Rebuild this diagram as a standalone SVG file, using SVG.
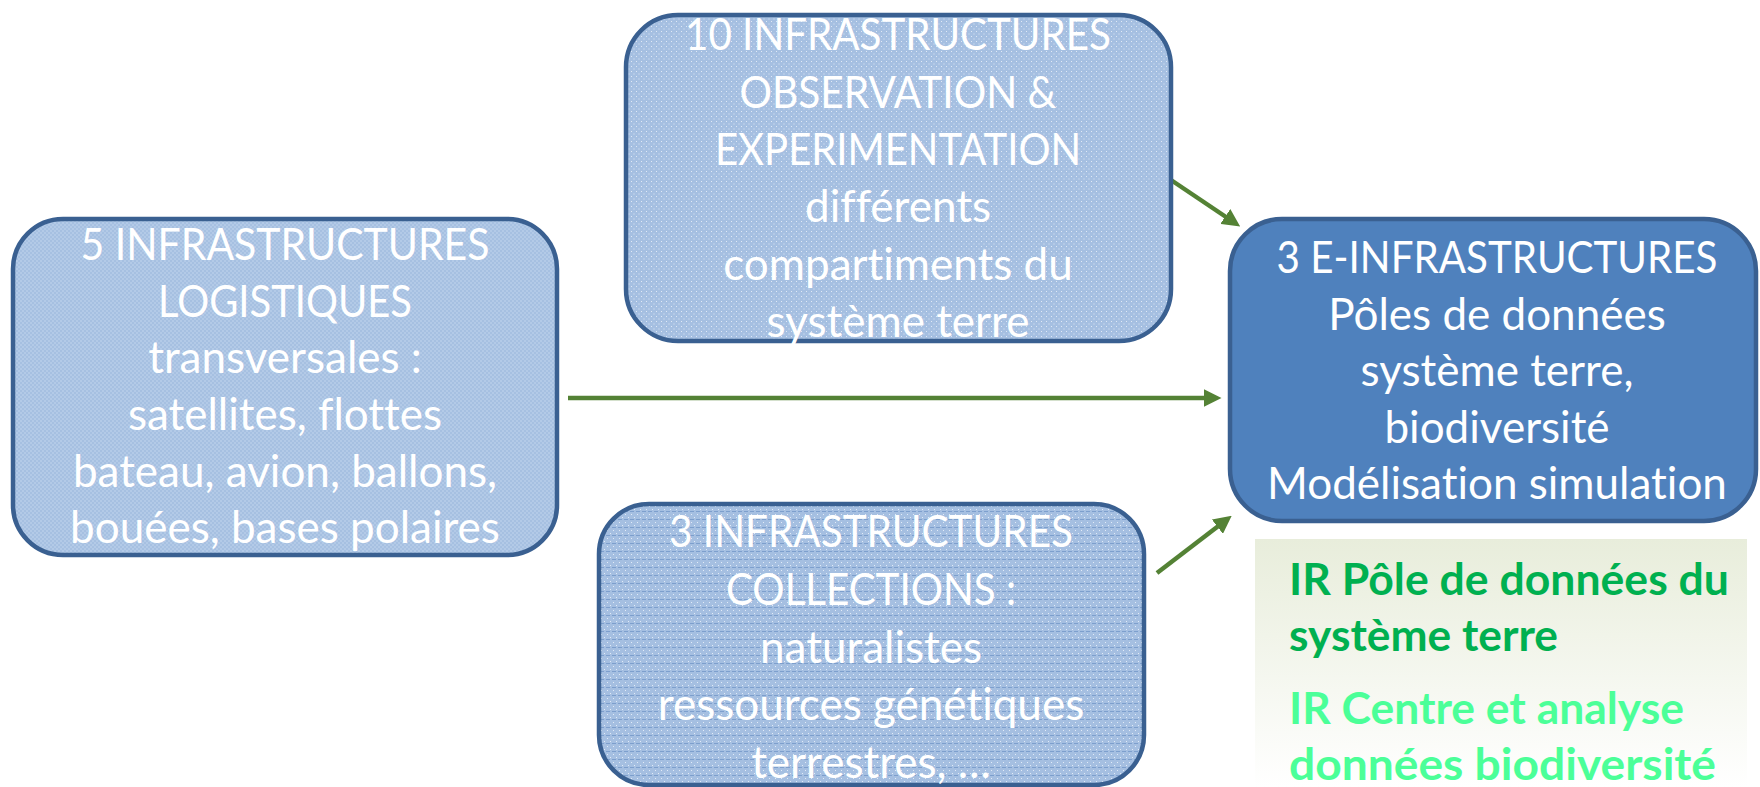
<svg xmlns="http://www.w3.org/2000/svg" width="1760" height="787" viewBox="0 0 1760 787">
<style>
.box{stroke:#3a6091;stroke-width:4.5}
.t{font-family:Lato,"Open Sans","Liberation Sans",sans-serif;font-size:44px;fill:#ffffff;text-anchor:middle;font-variant-ligatures:none}
.g{font-family:Lato,"Open Sans","Liberation Sans",sans-serif;font-size:44px;font-weight:bold;font-variant-ligatures:none}
.c{stroke:#548235;stroke-width:4.5;fill:none;marker-end:url(#ah)}
</style>
<defs>
<pattern id="pA" width="4" height="4" patternUnits="userSpaceOnUse">
<rect width="4" height="4" fill="#a6c0e1"/>
<rect x="0" y="0" width="2" height="2" fill="#b3cae7"/>
<rect x="2" y="2" width="2" height="2" fill="#b3cae7"/>
</pattern>
<pattern id="pB" width="5" height="5" patternUnits="userSpaceOnUse">
<rect width="5" height="5" fill="#a5bfe1"/>
<rect x="1" y="1" width="1" height="1" fill="#dfe9f6"/>
<rect x="3.5" y="3.5" width="1" height="1" fill="#dfe9f6"/>
</pattern>
<pattern id="pC" width="6" height="8" patternUnits="userSpaceOnUse">
<rect width="6" height="8" fill="#a5bfe1"/>
<rect x="1" y="2" width="1" height="1" fill="#e2ebf7"/>
<rect x="4" y="5" width="1" height="1" fill="#e2ebf7"/>
<rect x="0" y="7" width="4" height="1" fill="#7d9fcd"/>
</pattern>
<linearGradient id="gg" x1="0" y1="0" x2="0" y2="1">
<stop offset="0" stop-color="#e8eddb"/>
<stop offset="1" stop-color="#ffffff"/>
</linearGradient>
<marker id="ah" markerWidth="4" markerHeight="4" refX="1" refY="2" orient="auto" markerUnits="strokeWidth" viewBox="0 0 4 4">
<path d="M0,0 L4,2 L0,4 Z" fill="#548235"/>
</marker>
</defs>

<g id="connectors">
<line class="c" x1="568" y1="398" x2="1208" y2="398"/>
<line class="c" x1="1171" y1="180" x2="1229" y2="219"/>
<line class="c" x1="1157" y1="573" x2="1221" y2="524"/>
</g>

<g id="logistiques">
<rect class="box" x="13" y="219" width="544" height="336" rx="50" fill="url(#pA)"/>
<text class="t" x="285" y="260" textLength="409" lengthAdjust="spacingAndGlyphs">5 INFRASTRUCTURES</text>
<text class="t" x="285" y="317" textLength="254" lengthAdjust="spacingAndGlyphs">LOGISTIQUES</text>
<text class="t" x="285" y="373">transversales :</text>
<text class="t" x="285" y="430">satellites, flottes</text>
<text class="t" x="285" y="487">bateau, avion, ballons,</text>
<text class="t" x="285" y="543">bouées, bases polaires</text>
</g>

<g id="observation">
<rect class="box" x="626" y="15" width="545" height="326" rx="52" fill="url(#pB)"/>
<text class="t" x="898" y="50" textLength="426" lengthAdjust="spacingAndGlyphs">10 INFRASTRUCTURES</text>
<text class="t" x="898" y="108" textLength="317" lengthAdjust="spacingAndGlyphs">OBSERVATION &amp;</text>
<text class="t" x="898" y="165" textLength="366" lengthAdjust="spacingAndGlyphs">EXPERIMENTATION</text>
<text class="t" x="898" y="222">différents</text>
<text class="t" x="898" y="280">compartiments du</text>
<text class="t" x="898" y="337">système terre</text>
</g>

<g id="collections">
<rect class="box" x="599" y="504" width="545" height="281" rx="50" fill="url(#pC)"/>
<text class="t" x="871" y="547" textLength="404" lengthAdjust="spacingAndGlyphs">3 INFRASTRUCTURES</text>
<text class="t" x="871" y="605" textLength="290" lengthAdjust="spacingAndGlyphs">COLLECTIONS :</text>
<text class="t" x="871" y="663">naturalistes</text>
<text class="t" x="871" y="720">ressources génétiques</text>
<text class="t" x="871" y="778">terrestres, …</text>
</g>

<g id="einfra">
<rect class="box" x="1230" y="219" width="526" height="302" rx="52" fill="#4f81bd"/>
<text class="t" x="1497" y="273" textLength="441" lengthAdjust="spacingAndGlyphs">3 E-INFRASTRUCTURES</text>
<text class="t" x="1497" y="330">Pôles de données</text>
<text class="t" x="1497" y="386">système terre,</text>
<text class="t" x="1497" y="443">biodiversité</text>
<text class="t" x="1497" y="499">Modélisation simulation</text>
</g>

<g id="ir-list">
<rect x="1255" y="539" width="492" height="248" fill="url(#gg)"/>
<text class="g" x="1289" y="595" fill="#00b050" textLength="440" lengthAdjust="spacingAndGlyphs">IR Pôle de données du</text>
<text class="g" x="1289" y="651" fill="#00b050" textLength="269" lengthAdjust="spacingAndGlyphs">système terre</text>
<text class="g" x="1289" y="724" fill="#4bff98" textLength="395" lengthAdjust="spacingAndGlyphs">IR Centre et analyse</text>
<text class="g" x="1289" y="780" fill="#4bff98" textLength="427" lengthAdjust="spacingAndGlyphs">données biodiversité</text>
</g>
</svg>
